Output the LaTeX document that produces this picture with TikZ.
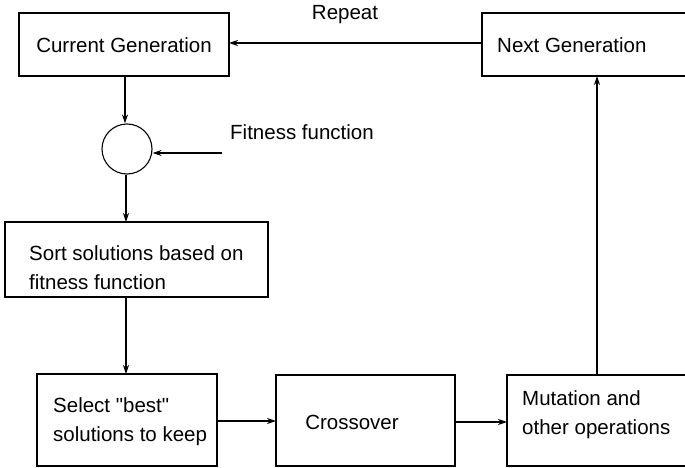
\documentclass[tikz,border=0pt]{standalone}
\usepackage{fontspec}
\setmainfont{Liberation Sans}[Ligatures=TeXOff]
\usetikzlibrary{arrows.meta}
\begin{document}
\begin{tikzpicture}[x=1pt,y=-1pt,
  lbl/.style={font=\fontsize{20.5}{29}\selectfont, inner sep=0pt, align=left},
  box/.style={draw, line width=1.1pt, inner sep=0pt, outer sep=0pt},
  arr/.style={line width=1.1pt, -{Stealth[length=9pt,width=6pt,inset=3pt]}}]
\useasboundingbox (0,0) rectangle (685,468);
\begin{scope}
\clip (0,0) rectangle (685,468);
% boxes
\node[box, minimum width=210pt, minimum height=63pt] (cur) at (124,44.5) {};
\node[box, minimum width=212pt, minimum height=63pt] (next) at (588,44.5) {};
\node[draw, line width=1.1pt, circle, minimum size=50pt, inner sep=0pt] (circ) at (127,149) {};
\node[box, minimum width=263pt, minimum height=75pt] (sort) at (136.5,259.5) {};
\node[box, minimum width=180pt, minimum height=92pt] (sel) at (127,420) {};
\node[box, minimum width=179pt, minimum height=91pt] (cross) at (365.5,420.5) {};
\node[box, minimum width=185pt, minimum height=91pt] (mut) at (599.5,420.5) {};
% texts
\node[lbl] (curt) at (124,45) {Current Generation};
\node[lbl, anchor=west] (nextt) at (497,45) {Next Generation};
\node[lbl, anchor=west] (sortt) at (29,268) {Sort solutions based on\\fitness function};
\node[lbl, anchor=west] (selt) at (53,422) {Select "best"\\solutions to keep};
\node[lbl] (crosst) at (352,422) {Crossover};
\node[lbl, anchor=west] (mutt) at (522,415) {Mutation and\\other operations};
\node[lbl] (rep) at (345,15) {Repeat};
\node[lbl, anchor=west] (fitl) at (230,132) {Fitness function};
\coordinate (fit) at (222,153);
\coordinate (topx) at (597,0);
% connectors
\draw[arr] (next.west |- 0,43) -- (cur.east |- 0,43);
\draw[arr] (cur.south -| 125,0) -- (circ.north -| 125,0);
\draw[arr] (fit) -- (fit -| circ.east);
\draw[arr] (circ.south -| 126,0) -- (sort.north -| 126,0);
\draw[arr] (sort.south -| 126,0) -- (sel.north -| 126,0);
\draw[arr] (sel.east |- 0,421) -- (cross.west |- 0,421);
\draw[arr] (cross.east |- 0,422) -- (mut.west |- 0,422);
\draw[arr] (mut.north -| topx) -- (next.south -| topx);
\end{scope}
\end{tikzpicture}
\end{document}
